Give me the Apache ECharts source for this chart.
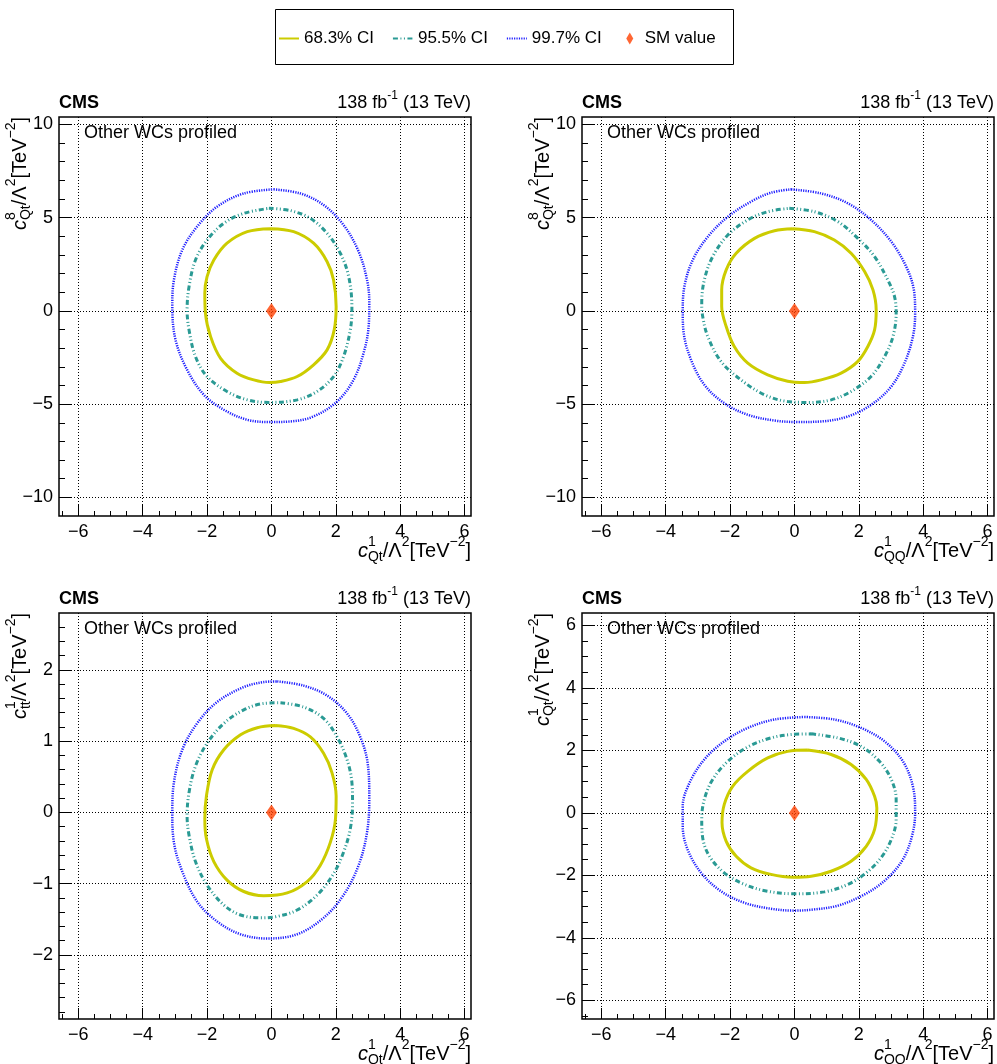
<!DOCTYPE html>
<html><head><meta charset="utf-8">
<script src="https://cdn.jsdelivr.net/npm/echarts@6/dist/echarts.min.js"></script>
<style>html,body{margin:0;padding:0;background:#fff}#c{width:997px;height:1064px}</style>
</head><body><div id="c"></div>
<script>
// ================= DATA =================
const legendNames = ['68.3% CI', '95.5% CI', '99.7% CI', 'SM value'];
const smPoint = [[0, 0]];

const xRange = [-6.6, 6.2];
const xMajor = [-6, -4, -2, 0, 2, 4, 6];
const xMinor = [-6.5, -5.5, -5, -4.5, -3.5, -3, -2.5, -1.5, -1, -0.5, 0.5, 1, 1.5, 2.5, 3, 3.5, 4.5, 5, 5.5];

const yRangeTop = [-11, 10.4];
const yMajorTop = [-10, -5, 0, 5, 10];
const yMinorTop = [-9, -8, -7, -6, -4, -3, -2, -1, 1, 2, 3, 4, 6, 7, 8, 9];

const yRangeBL = [-2.9, 2.8];
const yMajorBL = [-2, -1, 0, 1, 2];
const yMinorBL = [-2.8, -2.6, -2.4, -2.2, -1.8, -1.6, -1.4, -1.2, -0.8, -0.6, -0.4, -0.2, 0.2, 0.4, 0.6, 0.8, 1.2, 1.4, 1.6, 1.8, 2.2, 2.4, 2.6];

const yRangeBR = [-6.6, 6.4];
const yMajorBR = [-6, -4, -2, 0, 2, 4, 6];
const yMinorBR = [-6.5, -5.5, -5, -4.5, -3.5, -3, -2.5, -1.5, -1, -0.5, 0.5, 1, 1.5, 2.5, 3, 3.5, 4.5, 5, 5.5];

// Panel 1: c1Qt (x) vs c8Qt (y)
const tl68 = [[-0.03,4.41],[0.69,4.25],[1.31,3.63],[1.73,2.64],[1.93,1.66],[2.01,0.23],[1.95,-1.02],[1.73,-2.09],[1.31,-2.89],[0.80,-3.52],[0.28,-3.79],[-0.06,-3.84],[-0.55,-3.70],[-1.07,-3.34],[-1.58,-2.54],[-1.89,-1.38],[-2.05,-0.13],[-2.07,0.95],[-2.00,1.84],[-1.79,2.73],[-1.38,3.63],[-0.75,4.25],[-0.03,4.41]];
const tl95 = [[-0.08,5.50],[0.59,5.38],[1.21,4.96],[1.73,4.16],[2.14,3.09],[2.40,1.84],[2.50,0.14],[2.45,-1.02],[2.24,-2.45],[1.93,-3.52],[1.42,-4.32],[0.80,-4.77],[-0.08,-4.91],[-0.75,-4.77],[-1.38,-4.32],[-2.00,-3.52],[-2.36,-2.45],[-2.56,-1.02],[-2.62,0.05],[-2.56,1.30],[-2.36,2.73],[-2.00,3.80],[-1.48,4.70],[-0.86,5.23],[-0.08,5.50]];
const tl99 = [[0.07,6.52],[0.90,6.30],[1.62,5.68],[2.24,4.61],[2.71,3.18],[2.97,1.66],[3.04,0.50],[3.02,-0.84],[2.86,-2.27],[2.55,-3.70],[2.04,-4.86],[1.31,-5.66],[0.59,-5.93],[-0.03,-5.96],[-0.75,-5.84],[-1.48,-5.30],[-2.10,-4.50],[-2.62,-3.16],[-2.98,-1.55],[-3.08,0.23],[-3.03,1.66],[-2.77,3.27],[-2.31,4.52],[-1.69,5.59],[-0.86,6.30],[0.07,6.52]];

// Panel 2: c1QQ (x) vs c8Qt (y)
const tr68 = [[-0.05,4.41],[0.62,4.25],[1.24,3.80],[1.76,3.09],[2.18,2.11],[2.44,1.13],[2.54,0.05],[2.49,-1.02],[2.28,-1.91],[1.97,-2.71],[1.45,-3.34],[0.83,-3.70],[0.31,-3.84],[-0.21,-3.77],[-0.83,-3.43],[-1.45,-2.80],[-1.87,-1.91],[-2.12,-0.84],[-2.26,0.23],[-2.26,1.13],[-2.12,2.20],[-1.81,3.09],[-1.24,3.89],[-0.62,4.30],[-0.05,4.41]];
const tr95 = [[-0.16,5.50],[0.62,5.32],[1.35,4.79],[1.97,3.89],[2.49,2.91],[2.90,1.66],[3.11,0.77],[3.16,-0.13],[3.06,-1.38],[2.80,-2.45],[2.38,-3.52],[1.76,-4.32],[1.14,-4.77],[0.47,-4.91],[-0.21,-4.86],[-0.93,-4.50],[-1.66,-3.70],[-2.28,-2.71],[-2.69,-1.38],[-2.85,-0.30],[-2.88,0.41],[-2.80,1.66],[-2.54,2.91],[-2.07,4.07],[-1.45,4.88],[-0.83,5.32],[-0.16,5.50]];
const tr99 = [[-0.10,6.52],[0.83,6.30],[1.66,5.77],[2.38,4.88],[3.01,3.71],[3.47,2.38],[3.71,1.13],[3.75,-0.13],[3.68,-1.38],[3.42,-2.80],[3.01,-4.05],[2.38,-5.04],[1.66,-5.66],[0.83,-5.93],[0.10,-5.96],[-0.62,-5.88],[-1.45,-5.57],[-2.18,-4.95],[-2.80,-3.96],[-3.21,-2.63],[-3.44,-1.20],[-3.47,-0.04],[-3.42,1.30],[-3.16,2.73],[-2.69,3.98],[-2.07,5.05],[-1.35,5.86],[-0.73,6.34],[-0.10,6.52]];

// Panel 3: c1Qt (x) vs c1tt (y)
const bl68 = [[0.12,1.22],[0.69,1.18],[1.21,1.06],[1.62,0.83],[1.88,0.56],[2.01,0.23],[1.99,-0.09],[1.83,-0.42],[1.52,-0.74],[1.11,-0.97],[0.49,-1.13],[-0.24,-1.17],[-0.86,-1.11],[-1.38,-0.95],[-1.79,-0.69],[-2.02,-0.37],[-2.07,-0.09],[-2.02,0.23],[-1.84,0.60],[-1.48,0.88],[-0.96,1.09],[-0.44,1.19],[0.12,1.22]];
const bl95 = [[0.28,1.54],[1.00,1.48],[1.62,1.32],[2.04,1.06],[2.35,0.74],[2.50,0.42],[2.52,0.14],[2.45,-0.23],[2.24,-0.56],[1.93,-0.86],[1.42,-1.16],[0.80,-1.37],[0.18,-1.46],[-0.34,-1.48],[-0.96,-1.44],[-1.48,-1.30],[-2.00,-1.02],[-2.36,-0.69],[-2.56,-0.32],[-2.62,-0.05],[-2.56,0.28],[-2.36,0.65],[-2.00,0.97],[-1.48,1.25],[-0.86,1.44],[-0.24,1.53],[0.28,1.54]];
const bl99 = [[0.18,1.84],[1.00,1.78],[1.73,1.64],[2.35,1.39],[2.76,1.06],[2.99,0.69],[3.04,0.19],[2.97,-0.28],[2.71,-0.74],[2.24,-1.16],[1.62,-1.48],[0.80,-1.71],[-0.13,-1.77],[-0.96,-1.71],[-1.69,-1.53],[-2.31,-1.25],[-2.77,-0.83],[-3.03,-0.42],[-3.08,0.00],[-3.03,0.42],[-2.77,0.88],[-2.31,1.25],[-1.69,1.55],[-0.86,1.76],[-0.24,1.83],[0.18,1.84]];

// Panel 4: c1QQ (x) vs c1Qt (y)
const br68 = [[0.41,2.01],[1.14,1.87],[1.76,1.55],[2.23,1.07],[2.49,0.53],[2.56,0.16],[2.49,-0.53],[2.23,-1.07],[1.76,-1.55],[1.14,-1.87],[0.52,-2.03],[-0.05,-2.06],[-0.73,-1.97],[-1.35,-1.76],[-1.81,-1.39],[-2.12,-0.91],[-2.25,-0.32],[-2.18,0.27],[-1.92,0.85],[-1.45,1.33],[-0.83,1.76],[-0.21,1.97],[0.41,2.01]];
const br95 = [[0.52,2.53],[1.35,2.40],[2.07,2.13],[2.64,1.65],[3.01,1.07],[3.16,0.43],[3.16,-0.21],[3.01,-0.85],[2.69,-1.44],[2.23,-1.92],[1.66,-2.29],[0.93,-2.53],[0.00,-2.59],[-0.83,-2.51],[-1.55,-2.29],[-2.18,-1.92],[-2.64,-1.39],[-2.85,-0.80],[-2.88,-0.21],[-2.80,0.43],[-2.54,1.07],[-2.07,1.65],[-1.45,2.11],[-0.73,2.40],[-0.10,2.51],[0.52,2.53]];
const br99 = [[0.31,3.07],[1.24,2.99],[2.07,2.72],[2.80,2.29],[3.37,1.65],[3.68,0.85],[3.75,0.00],[3.65,-0.75],[3.37,-1.49],[2.85,-2.13],[2.18,-2.61],[1.35,-2.97],[0.62,-3.09],[0.00,-3.13],[-0.73,-3.07],[-1.55,-2.88],[-2.28,-2.51],[-2.90,-1.92],[-3.32,-1.17],[-3.47,-0.43],[-3.47,0.21],[-3.26,0.96],[-2.80,1.71],[-2.18,2.29],[-1.45,2.72],[-0.62,2.99],[0.31,3.07]];

// axis title pieces
const xTitleQt = [['i','c'],['s','1','Qt'],['m','/Λ'],['p','2'],['m','[TeV'],['p','−2'],['m',']']];
const xTitleQQ = [['i','c'],['s','1','QQ'],['m','/Λ'],['p','2'],['m','[TeV'],['p','−2'],['m',']']];
const yTitle8Qt = [['i','c'],['s','8','Qt'],['m','/Λ'],['p','2'],['m','[TeV'],['p','−2'],['m',']']];
const yTitle1tt = [['i','c'],['s','1','tt'],['m','/Λ'],['p','2'],['m','[TeV'],['p','−2'],['m',']']];
const yTitle1Qt = [['i','c'],['s','1','Qt'],['m','/Λ'],['p','2'],['m','[TeV'],['p','−2'],['m',']']];
const lumiText = [['m','138 fb'],['p','-1'],['m',' (13 TeV)']];
const cmsText = 'CMS';
const profText = 'Other WCs profiled';

// ================= STYLE / LAYOUT =================
const FAM = '"Liberation Sans", Arial, Helvetica, sans-serif';
const C68 = '#cccc00', C95 = '#2a9a94', C99 = '#1f1fff', CSM = '#ff4000';

const panels = [
  {grid:{left:59, top:117, width:412, height:399}, yR:yRangeTop, yMaj:yMajorTop, yMin:yMinorTop, d:[tl68,tl95,tl99], xt:xTitleQt, yt:yTitle8Qt},
  {grid:{left:582, top:117, width:412, height:399}, yR:yRangeTop, yMaj:yMajorTop, yMin:yMinorTop, d:[tr68,tr95,tr99], xt:xTitleQQ, yt:yTitle8Qt},
  {grid:{left:59, top:613, width:412, height:406}, yR:yRangeBL, yMaj:yMajorBL, yMin:yMinorBL, d:[bl68,bl95,bl99], xt:xTitleQt, yt:yTitle1tt},
  {grid:{left:582, top:613, width:412, height:406}, yR:yRangeBR, yMaj:yMajorBR, yMin:yMinorBR, d:[br68,br95,br99], xt:xTitleQQ, yt:yTitle1Qt}
];

const cv = document.createElement('canvas').getContext('2d');
function tw(t, font) { cv.font = font; return cv.measureText(t).width; }
function txt(x, y, t, font, align) {
  return {type:'text', x:x, y:y, style:{text:t, font:font, fill:'#000', align:align||'left', verticalAlign:'middle', textAlign:align||'left', textVerticalAlign:'middle'}};
}
function piecesGroup(parts, ax, ay, rot, big, small, endAligned) {
  const kids = []; let x = 0;
  const fm = big + 'px ' + FAM, fi = 'italic ' + big + 'px ' + FAM, fs = small + 'px ' + FAM;
  parts.forEach(p => {
    if (p[0] === 'm' || p[0] === 'i') {
      const f = p[0] === 'i' ? fi : fm;
      kids.push(txt(x, 0, p[1], f)); x += tw(p[1], f);
    } else if (p[0] === 'p') {
      kids.push(txt(x, -big * 0.42, p[1], fs)); x += tw(p[1], fs);
    } else if (p[0] === 's') {
      kids.push(txt(x, -big * 0.42, p[1], fs));
      kids.push(txt(x, big * 0.32, p[2], fs));
      x += Math.max(tw(p[1], fs), tw(p[2], fs));
    }
  });
  if (endAligned) kids.forEach(k => { k.x -= x; });
  return {type:'group', x:ax, y:ay, rotation:rot ? Math.PI / 2 : 0, children:kids};
}
const fmt = v => (v < 0 ? '\u2212' : '') + Math.abs(v);

const lineStyles = [
  {color:C68, width:3, type:'solid'},
  {color:C95, width:3, type:[5, 2.5, 1, 2.5, 1, 2.5]},
  {color:C99, width:2.5, type:[1.2, 1.2]}
];

const grids = [], xAxes = [], yAxes = [], series = [], graphics = [];
panels.forEach((p, i) => {
  grids.push(Object.assign({show:true, borderColor:'#000', borderWidth:1.5, backgroundColor:'transparent', containLabel:false, outerBoundsMode:'none'}, p.grid));
  const splitStyle = {show:true, lineStyle:{color:'#000', type:[1, 2], width:1}};
  const noLine = {show:false, onZero:false};
  xAxes.push({type:'value', gridIndex:i, min:xRange[0], max:xRange[1], position:'bottom',
    axisLine:noLine, axisTick:{show:true, inside:true, length:11, customValues:xMajor, lineStyle:{color:'#000', width:1}},
    axisLabel:{customValues:xMajor, formatter:fmt, color:'#000', fontSize:18, fontFamily:FAM, margin:7},
    splitLine:splitStyle});
  xAxes.push({type:'value', gridIndex:i, min:xRange[0], max:xRange[1], position:'bottom',
    axisLine:noLine, axisTick:{show:true, inside:true, length:5, customValues:xMinor, lineStyle:{color:'#000', width:1}},
    axisLabel:{show:false}, splitLine:{show:false}});
  yAxes.push({type:'value', gridIndex:i, min:p.yR[0], max:p.yR[1], position:'left',
    axisLine:noLine, axisTick:{show:true, inside:true, length:12, customValues:p.yMaj, lineStyle:{color:'#000', width:1}},
    axisLabel:{customValues:p.yMaj, formatter:fmt, color:'#000', fontSize:18, fontFamily:FAM, margin:6},
    splitLine:splitStyle});
  yAxes.push({type:'value', gridIndex:i, min:p.yR[0], max:p.yR[1], position:'left',
    axisLine:noLine, axisTick:{show:true, inside:true, length:6, customValues:p.yMin, lineStyle:{color:'#000', width:1}},
    axisLabel:{show:false}, splitLine:{show:false}});
  p.d.forEach((arr, k) => {
    series.push({type:'line', name:legendNames[k], xAxisIndex:2 * i, yAxisIndex:2 * i, data:arr,
      showSymbol:false, symbol:'none', smooth:0.35, lineStyle:lineStyles[k], itemStyle:{color:lineStyles[k].color}, z:3});
  });
  series.push({type:'scatter', name:legendNames[3], xAxisIndex:2 * i, yAxisIndex:2 * i, data:smPoint,
    symbol:'diamond', symbolSize:[11, 16], itemStyle:{color:CSM}, z:5});

  const g = p.grid, right = g.left + g.width, top = g.top, bottom = g.top + g.height;
  graphics.push(txt(g.left, top - 14, cmsText, 'bold 18px ' + FAM));
  graphics.push(piecesGroup(lumiText, right, top - 14, false, 18, 12, true));
  graphics.push(txt(g.left + 25, top + 16, profText, '18px ' + FAM));
  graphics.push(piecesGroup(p.xt, right, bottom + 35, false, 20, 14, true));
  graphics.push(piecesGroup(p.yt, g.left - 39, top, true, 20, 14, true));
});

graphics.push({type:'rect', shape:{x:275.5, y:9.5, width:458, height:55}, style:{fill:'none', stroke:'#000', lineWidth:1}});

const hideSym = {opacity:0};
const option = {
  animation:false,
  backgroundColor:'#fff',
  grid:grids, xAxis:xAxes, yAxis:yAxes, series:series,
  legend:{
    left:278, top:30, itemWidth:20, itemHeight:14, itemGap:18, padding:0,
    textStyle:{fontSize:17, fontFamily:FAM, color:'#000'},
    data:[
      {name:legendNames[0], itemStyle:hideSym},
      {name:legendNames[1], itemStyle:hideSym},
      {name:legendNames[2], itemStyle:hideSym},
      {name:legendNames[3], icon:'path://M0,0M20,14M10,1L13.5,7L10,13L6.5,7Z'}
    ]
  },
  graphic:{elements:graphics}
};
const chart = echarts.init(document.getElementById('c'), null, {renderer:'canvas'});
chart.setOption(option);
</script></body></html>
